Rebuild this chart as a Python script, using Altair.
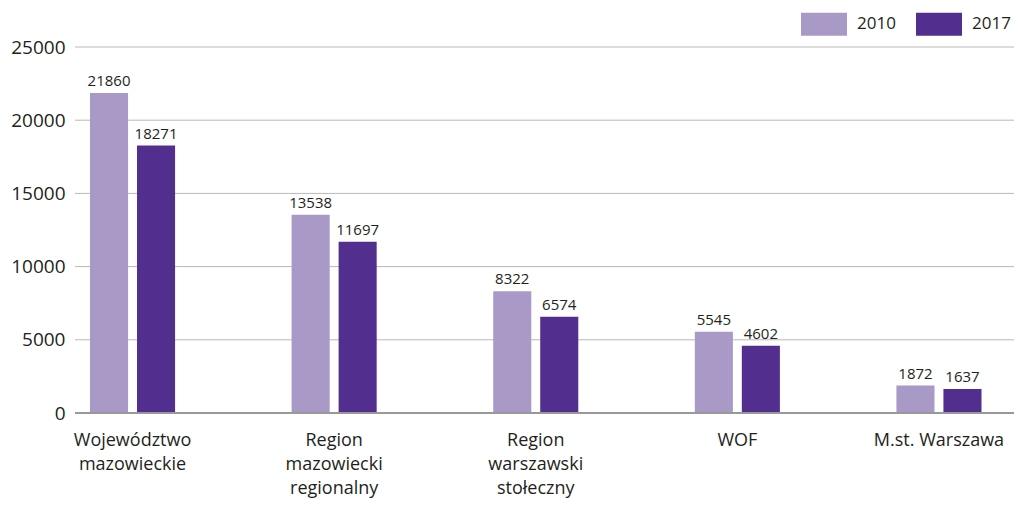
import altair as alt
import pandas as pd

categories = ["Województwo|mazowieckie", "Region|mazowiecki|regionalny",
              "Region|warszawski|stołeczny", "WOF", "M.st. Warszawa"]
years = ["2010", "2017"]
values_2010 = [21860, 13538, 8322, 5545, 1872]
values_2017 = [18271, 11697, 6574, 4602, 1637]
y_ticks = [0, 5000, 10000, 15000, 20000, 25000]
grid_ticks = [5000, 10000, 15000, 20000, 25000]
colors = ["#a899c7", "#522e8f"]

rows = []
for c, a, b in zip(categories, values_2010, values_2017):
    rows.append({"region": c, "year": "2010", "value": a})
    rows.append({"region": c, "year": "2017", "value": b})
df = pd.DataFrame(rows)

FONT = "Open Sans"
TXT = "#231f20"
W, H = 939, 366

x = alt.X("region:N", sort=categories,
          scale=alt.Scale(range=[15, 906.5], paddingInner=0.578, paddingOuter=0),
          axis=alt.Axis(title=None, labelAngle=0, labelExpr="split(datum.label, '|')",
                        domain=False, ticks=False, grid=False, labelFontSize=18, labelPadding=18,
                        labelLineHeight=24, labelColor=TXT, labelFont=FONT, labelLimit=400))
xo = alt.XOffset("year:N", sort=years, scale=alt.Scale(paddingInner=0.19, paddingOuter=0))
y = alt.Y("value:Q", scale=alt.Scale(domain=[0, 25000], nice=False),
          axis=alt.Axis(values=y_ticks, format="d", title=None, domain=False, ticks=False,
                        grid=False, labelPadding=10, labelFontSize=19,
                        labelColor=TXT, labelFont=FONT))
color = alt.Color("year:N", sort=years, scale=alt.Scale(domain=years, range=colors),
                  legend=alt.Legend(title=None, orient="none", legendX=726, legendY=-46,
                                    direction="horizontal", symbolType="M-1,-0.5H1V0.5H-1Z",
                                    symbolSize=2116, symbolStrokeWidth=0, symbolOpacity=1,
                                    labelFontSize=17, labelFont=FONT, labelColor=TXT,
                                    columnPadding=20, labelOffset=10))

grid = alt.Chart(pd.DataFrame({"v": grid_ticks})).mark_rule(color="#b8b8b8", strokeWidth=1).encode(
    y=alt.Y("v:Q"), x=alt.value(0), x2=alt.value(W))
zero = alt.Chart(pd.DataFrame({"v": [0]})).mark_rule(color="#999999", strokeWidth=2).encode(
    y=alt.Y("v:Q"), x=alt.value(0), x2=alt.value(W))

base = alt.Chart(df)
bars = base.mark_bar().encode(x=x, xOffset=xo, y=y, color=color)
texts = base.mark_text(dy=-7, baseline="alphabetic", fontSize=15, font=FONT, color=TXT).encode(
    x=x, xOffset=xo, y=y, text=alt.Text("value:Q", format="d"))

chart = alt.layer(grid, bars, zero, texts).properties(
    width=W, height=H,
    padding={"left": 67, "top": 39, "right": 0, "bottom": 87},
    autosize=alt.AutoSizeParams(type="none"),
).configure_view(stroke=None)

chart.save("out.html", embed_options={"renderer": "svg", "actions": False})
